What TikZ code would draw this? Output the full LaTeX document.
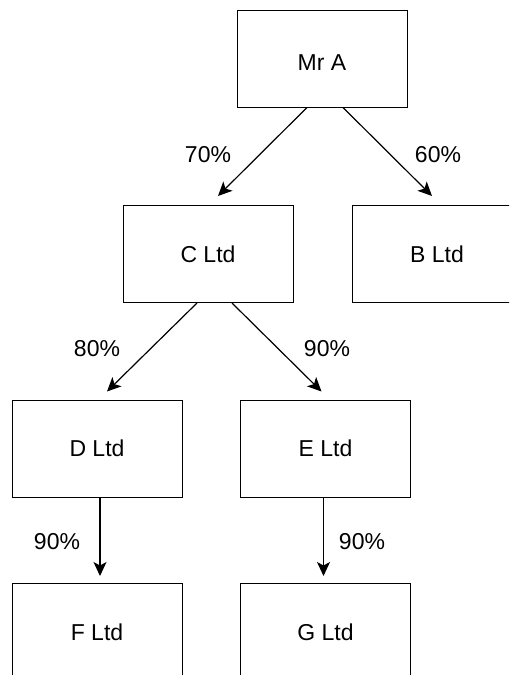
\documentclass[tikz,border=0pt]{standalone}
\usepackage{fontspec}
\setmainfont{Liberation Sans}
\usepackage{tikz}
\usetikzlibrary{arrows.meta}

\tikzset{
  company/.style={draw, line width=1pt, minimum width=170pt, minimum height=97pt, inner sep=0pt, font=\fontsize{23}{27}\selectfont},
  share/.style={font=\fontsize{23}{27}\selectfont},
  own/.style={-{Stealth[length=14pt,width=13pt,inset=3.5pt]}, line width=1.2pt},
}

\begin{document}
\begin{tikzpicture}[x=1pt, y=-1pt]

    %% Background
    \useasboundingbox (0,0) rectangle (509,675);
    \clip (0,0) rectangle (509,675);

    %% Companies
    \node[company, text height=24.5pt] (mra) at (322,58.5) {Mr A};
    \node[company] (cltd) at (208,254) {C Ltd};
    \node[company] (bltd) at (437,254) {B Ltd};
    \node[company] (dltd) at (97,448.5) {D Ltd};
    \node[company] (eltd) at (325.5,448.5) {E Ltd};
    \node[company] (fltd) at (97,632) {F Ltd};
    \node[company] (gltd) at (325.5,632) {G Ltd};

    %% Holdings
    \draw[own] ([xshift=-15pt]mra.south) -- ([xshift=10pt,yshift=9pt]cltd.north);
    \draw[own] ([xshift=21pt]mra.south) -- ([xshift=-5pt,yshift=9pt]bltd.north);
    \draw[own] ([xshift=-11pt]cltd.south) -- ([xshift=10pt,yshift=8pt]dltd.north);
    \draw[own] ([xshift=24pt]cltd.south) -- ([xshift=-4pt,yshift=8pt]eltd.north);
    \draw[own] ([xshift=3pt]dltd.south) -- ([xshift=3pt,yshift=7pt]fltd.north);
    \draw[own] ([xshift=-2pt]eltd.south) -- ([xshift=-2pt,yshift=7pt]gltd.north);

    %% Percentages
    \node[share] (pc) at (208,155) {70\%};
    \node[share] (pb) at (438,155) {60\%};
    \node[share] (pd) at (97,349) {80\%};
    \node[share] (pe) at (327,349) {90\%};
    \node[share] (pf) at (57,542) {90\%};
    \node[share] (pg) at (362,542) {90\%};

\end{tikzpicture}
\end{document}
